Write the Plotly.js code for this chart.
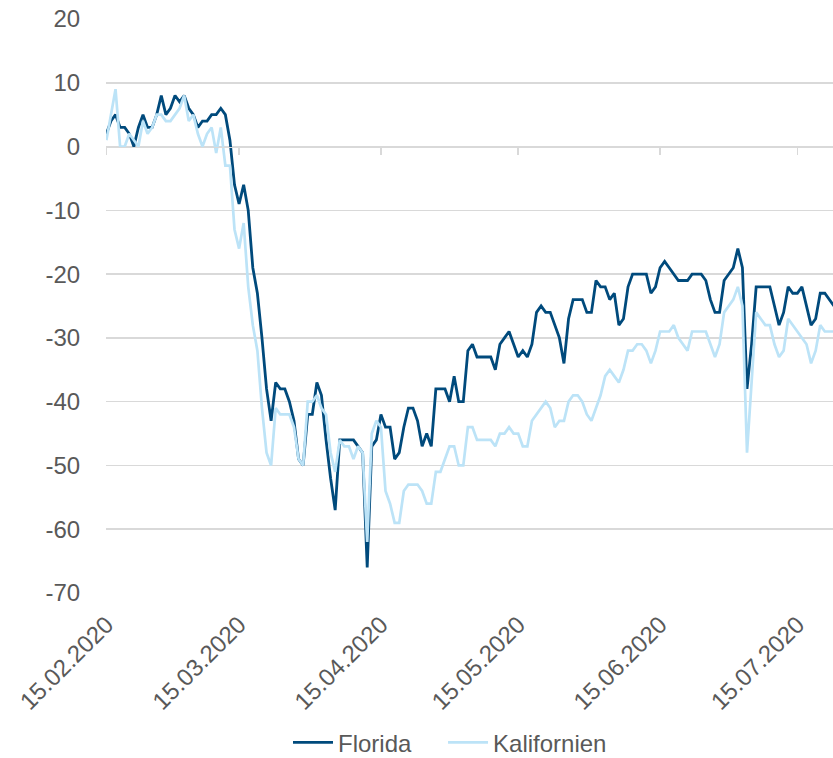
<!DOCTYPE html>
<html>
<head>
<meta charset="utf-8">
<script src="https://cdn.plot.ly/plotly-3.0.1.min.js"></script>
<style>html,body{margin:0;padding:0;background:#fff;}#chart{width:833px;height:758px;}</style>
</head>
<body>
<div id="chart"></div>
<script>
// Daily series starting 15.02.2020
const startDate = '2020-02-15';
const florida = [2,4,5,3,3,2,0,3,5,3,
 3,5,8,5,6,8,7,8,6,5,
 3,4,4,5,5,6,5,1,-6,-9,
 -6,-10,-19,-23,-30,-38,-43,-37,-38,-38,
 -40,-43,-49,-50,-42,-42,-37,-39,-46,-52,
 -57,-46,-46,-46,-46,-47,-48,-66,-47,-46,
 -42,-44,-44,-49,-48,-44,-41,-41,-43,-47,
 -45,-47,-38,-38,-38,-40,-36,-40,-40,-32,
 -31,-33,-33,-33,-33,-35,-31,-30,-29,-31,
 -33,-32,-33,-31,-26,-25,-26,-26,-28,-30,
 -34,-27,-24,-24,-24,-26,-26,-21,-22,-22,
 -24,-23,-28,-27,-22,-20,-20,-20,-20,-23,
 -22,-19,-18,-19,-20,-21,-21,-21,-20,-20,
 -20,-21,-24,-26,-26,-21,-20,-19,-16,-19,
 -38,-31,-22,-22,-22,-22,-25,-28,-26,-22,
 -23,-23,-22,-25,-28,-27,-23,-23,-24,-25];
const kalifornien = [1,5,9,0,0,2,1,0,4,2,
 3,5,5,4,4,5,6,8,4,5,
 2,0,2,3,-1,3,-3,-3,-13,-16,
 -12,-22,-28,-32,-41,-48,-50,-41,-42,-42,
 -42,-44,-49,-50,-40,-40,-39,-41,-42,-48,
 -51,-46,-47,-47,-49,-47,-48,-62,-45,-43,
 -44,-54,-56,-59,-59,-54,-53,-53,-53,-54,
 -56,-56,-51,-51,-49,-47,-47,-50,-50,-44,
 -44,-46,-46,-46,-46,-47,-45,-45,-44,-45,
 -45,-47,-47,-43,-42,-41,-40,-41,-44,-43,
 -43,-40,-39,-39,-40,-42,-43,-41,-39,-36,
 -35,-36,-37,-35,-32,-32,-31,-31,-32,-34,
 -32,-29,-29,-29,-28,-30,-31,-32,-29,-29,
 -29,-29,-31,-33,-31,-26,-25,-24,-22,-25,
 -48,-37,-26,-27,-28,-28,-31,-33,-32,-27,
 -28,-29,-30,-31,-34,-32,-28,-29,-29,-29];
const tickDates = ['2020-02-15','2020-03-15','2020-04-15','2020-05-15','2020-06-15','2020-07-15'];
const tickLabels = ['15.02.2020','15.03.2020','15.04.2020','15.05.2020','15.06.2020','15.07.2020'];
const yTickVals = [20,10,0,-10,-20,-30,-40,-50,-60,-70];
const yTickLabels = ['20','10','0','-10','-20','-30','-40','-50','-60','-70'];
const seriesNames = ['Florida','Kalifornien'];

const dates = [];
const s = new Date(startDate + 'T00:00:00Z');
for (let i = 0; i < florida.length; i++) {
  const d = new Date(s.getTime() + i * 86400000);
  dates.push(d.toISOString().slice(0,10));
}

const pad = '\u00a0\u00a0\u00a0\u00a0';
const traces = [
  {x: dates, y: florida, name: seriesNames[0] + pad, type: 'scatter', mode: 'lines',
   line: {color: '#004a7c', width: 2.8}, xaxis: 'x', yaxis: 'y'},
  {x: dates, y: kalifornien, name: seriesNames[1], type: 'scatter', mode: 'lines',
   line: {color: '#bce3f7', width: 2.7}, xaxis: 'x2', yaxis: 'y'}
];

const xr = ['2020-02-14 22:00', '2020-07-22 19:00'];
const layout = {
  width: 833, height: 758,
  margin: {l: 106, r: 0, t: 19, b: 165},
  paper_bgcolor: '#ffffff', plot_bgcolor: '#ffffff',
  font: {family: 'Liberation Sans, Arial, sans-serif', size: 24, color: '#595959'},
  showlegend: true,
  legend: {orientation: 'h', xref: 'container', yref: 'container', x: 288/833, xanchor: 'left',
           y: 0.02, yanchor: 'middle', font: {size: 24, color: '#595959'}, itemwidth: 40,
           traceorder: 'normal'},
  xaxis: {type: 'date', range: xr, tickmode: 'array', tickvals: tickDates, ticktext: tickLabels,
          tickangle: -45, showgrid: false, zeroline: false, showline: false,
          ticks: 'outside', ticklen: 7, tickcolor: 'rgba(0,0,0,0)'},
  xaxis2: {type: 'date', overlaying: 'x', matches: 'x', anchor: 'free', position: 70/90, side: 'bottom',
           range: xr, tickmode: 'array', tickvals: tickDates, showticklabels: false,
           showgrid: false, zeroline: false, showline: true, linecolor: '#d9d9d9', linewidth: 1.5,
           ticks: 'outside', ticklen: 7, tickwidth: 1.5, tickcolor: '#d9d9d9'},
  yaxis: {range: [-70, 20], tickmode: 'array', tickvals: yTickVals, ticktext: yTickLabels,
          showgrid: true, gridcolor: '#d9d9d9', gridwidth: 1.5,
          zeroline: false, showline: false, ticks: 'outside', ticklen: 20, tickcolor: 'rgba(0,0,0,0)'}
};

Plotly.newPlot('chart', traces, layout, {staticPlot: true, displayModeBar: false});
</script>
</body>
</html>
